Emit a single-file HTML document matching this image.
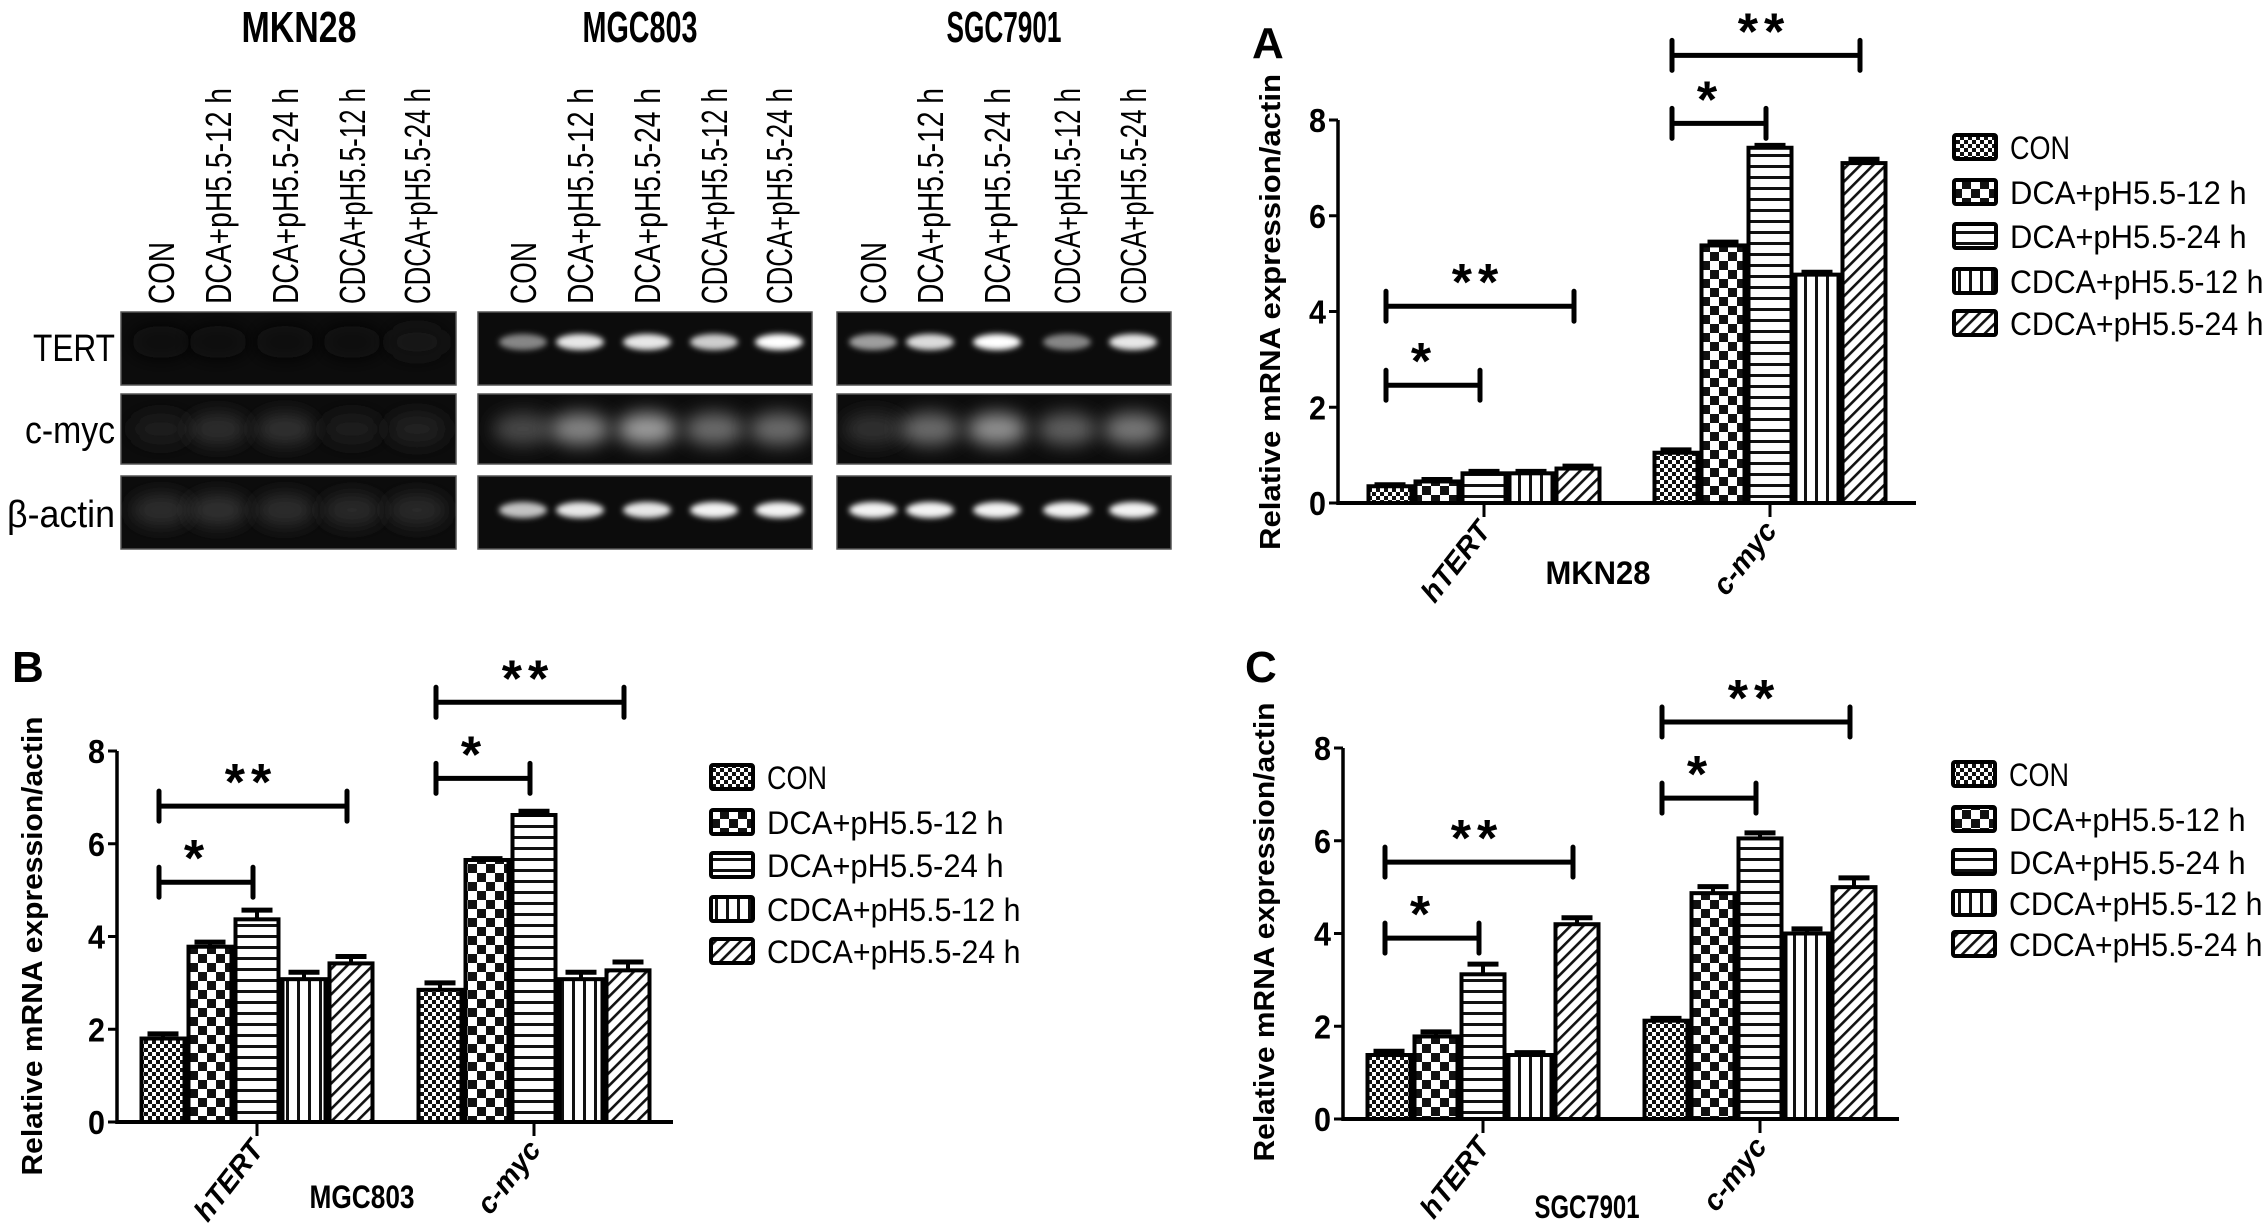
<!DOCTYPE html>
<html><head><meta charset="utf-8"><style>
html,body{margin:0;padding:0;background:#fff;}
svg{display:block;}
text{font-family:"Liberation Sans",sans-serif;}
</style></head><body>
<svg id="fig" width="2268" height="1230" viewBox="0 0 2268 1230" xmlns="http://www.w3.org/2000/svg">
<defs>
<pattern id="pCON" patternUnits="userSpaceOnUse" width="8" height="8"><rect width="8" height="8" fill="#fff"/><rect width="4" height="4" fill="#111"/><rect x="4" y="4" width="4" height="4" fill="#111"/></pattern>
<pattern id="pD12" patternUnits="userSpaceOnUse" width="18" height="18"><rect width="18" height="18" fill="#fff"/><rect width="9" height="9" fill="#111"/><rect x="9" y="9" width="9" height="9" fill="#111"/></pattern>
<pattern id="pD24" patternUnits="userSpaceOnUse" width="11" height="11"><rect width="11" height="11" fill="#fff"/><rect y="0" width="11" height="3" fill="#111"/></pattern>
<pattern id="pC12" patternUnits="userSpaceOnUse" width="11" height="11"><rect width="11" height="11" fill="#fff"/><rect x="0" width="3" height="11" fill="#111"/></pattern>
<pattern id="pC24" patternUnits="userSpaceOnUse" width="9" height="9" patternTransform="rotate(45)"><rect width="9" height="9" fill="#fff"/><rect width="2.6" height="9" fill="#111"/></pattern>
<filter id="blurS" x="-50%" y="-100%" width="200%" height="300%"><feGaussianBlur stdDeviation="3"/></filter>
<filter id="blurL" x="-50%" y="-100%" width="200%" height="300%"><feGaussianBlur stdDeviation="9"/></filter>
</defs>
</svg>
<script>
const NS='http://www.w3.org/2000/svg';
const svg=document.getElementById('fig');

// ---------- data ----------
const seriesNames=['CON','DCA+pH5.5-12 h','DCA+pH5.5-24 h','CDCA+pH5.5-12 h','CDCA+pH5.5-24 h'];
const categories=['hTERT','c-myc'];
const yTickLabels=['0','2','4','6','8'];
const yTickValues=[0,2,4,6,8];
// Panel A (MKN28)
const A_hTERT=[0.35,0.45,0.62,0.62,0.72];
const A_hTERT_err=[0.03,0.04,0.04,0.04,0.05];
const A_cmyc=[1.05,5.38,7.42,4.77,7.1];
const A_cmyc_err=[0.06,0.07,0.05,0.05,0.08];
const A_sig=[2.46,4.11,7.93,9.35];
// Panel B (MGC803)
const B_hTERT=[1.8,3.78,4.37,3.08,3.42];
const B_hTERT_err=[0.1,0.1,0.2,0.15,0.15];
const B_cmyc=[2.85,5.65,6.62,3.08,3.27];
const B_cmyc_err=[0.15,0.03,0.08,0.15,0.18];
const B_sig=[5.17,6.81,7.41,9.05];
// Panel C (SGC7901)
const C_hTERT=[1.38,1.78,3.12,1.38,4.2];
const C_hTERT_err=[0.08,0.1,0.22,0.05,0.14];
const C_cmyc=[2.12,4.87,6.05,4.0,5.0];
const C_cmyc_err=[0.05,0.14,0.12,0.1,0.2];
const C_sig=[3.9,5.54,6.92,8.56];
// Gel band intensities (lanes CON..CDCA24)
const gelCells=['MKN28','MGC803','SGC7901'];
const gelRows=['TERT','c-myc','β-actin'];
const MKN28_bands=[[0.01,0.02,0.02,0.01,0.05],[0.08,0.14,0.16,0.08,0.1],[0.14,0.16,0.14,0.12,0.12]];
const MGC803_bands=[[0.5,0.9,0.9,0.8,1.0],[0.25,0.5,0.6,0.4,0.4],[0.75,0.9,0.9,0.95,0.95]];
const SGC7901_bands=[[0.6,0.85,1.0,0.5,0.9],[0.15,0.4,0.55,0.35,0.45],[0.95,0.95,0.95,0.95,0.95]];

const patterns=['url(#pCON)','url(#pD12)','url(#pD24)','url(#pC12)','url(#pC24)'];

function el(tag,attrs,parent,txt){
  const e=document.createElementNS(NS,tag);
  for(const k in attrs) e.setAttribute(k,attrs[k]);
  if(txt!==undefined) e.textContent=txt;
  (parent||svg).appendChild(e);
  return e;
}

// ---------- gels ----------
const gelGeom=[
  {x0:121,x1:456,lanes:[161,218,285,352,417],tx:299,bands:MKN28_bands},
  {x0:478,x1:812,lanes:[523,580,647,714,779],tx:640,bands:MGC803_bands},
  {x0:837,x1:1171,lanes:[873,930,997,1067,1133],tx:1004,bands:SGC7901_bands}
];
const rowGeom=[{y0:312,y1:385,by:342},{y0:394,y1:464,by:429},{y0:476,y1:549,by:510}];
const defs=svg.querySelector('defs');
gelGeom.forEach((g,gi)=>{
  const grp=el('g',{});
  
  
  const t=el('text',{x:g.tx,y:42,'text-anchor':'middle','font-size':44,'font-weight':'bold',textLength:115,lengthAdjust:'spacingAndGlyphs'},grp,gelCells[gi]);
  
  
  g.lanes.forEach((lx,li)=>{
    const lt=el('text',{x:0,y:0,transform:`translate(${lx+13},304) rotate(-90)`,'font-size':36,textLength:(li===0?62:216),lengthAdjust:'spacingAndGlyphs'},grp,li===0?'CON':seriesNames[li]);
    
    
  });
  rowGeom.forEach((r,ri)=>{
    const cid='clip'+gi+'_'+ri;
    const cp=el('clipPath',{id:cid},defs);
    el('rect',{x:g.x0,y:r.y0,width:g.x1-g.x0,height:r.y1-r.y0},cp);
    const box=el('rect',{x:g.x0,y:r.y0,width:g.x1-g.x0,height:r.y1-r.y0,fill:'#0c0c0c',stroke:'#555','stroke-width':1.5},grp);
    
    
    const bg=el('g',{'clip-path':`url(#${cid})`},grp);
    g.lanes.forEach((lx,li)=>{
      const v=g.bands[ri][li];
      const c=Math.round(12+243*v);
      const diffuse=(ri===1)||gi===0;
      const b=el('ellipse',{cx:lx,cy:r.by,rx:diffuse?30:24,ry:diffuse?16:8,fill:`rgb(${c},${c},${c})`,filter:diffuse?'url(#blurL)':'url(#blurS)'},bg);
      
      
    });
  });
});
[['TERT',361],['c-myc',443],['β-actin',527]].forEach(([s,y])=>{
  const t=el('text',{x:115,y:y,'text-anchor':'end','font-size':38,textLength:s==='TERT'?82:(s==='c-myc'?90:108),lengthAdjust:'spacingAndGlyphs'},svg,s);
  
  
});

// ---------- bar panels ----------
function panel(p){
  const grp=el('g',{});
  
  
  const ys=v=>p.y0-v*(p.y0-p.y8)/8;
  const step=47;
  const xb=(g,i)=>p.ticks[g]-2.5*step+i*step;
  const xc=(g,i)=>xb(g,i)+step/2;
  const L=el('text',{x:p.lx,y:p.ly,'font-size':44,'font-weight':'bold'},grp,p.letter);
  
  
  const yt=el('text',{x:0,y:0,transform:`translate(${p.tcx},${p.tcy}) rotate(-90)`,'text-anchor':'middle','font-size':29,'font-weight':'bold',textLength:p.tlen,lengthAdjust:'spacingAndGlyphs'},grp,'Relative mRNA expression/actin');
  
  
  [p.vals[0],p.vals[1]].forEach((arr,g)=>{
    arr.forEach((v,i)=>{
      const e=p.errs[g][i];
      const x=xb(g,i);
      const eb=el('line',{x1:x+step/2,x2:x+step/2,y1:ys(v),y2:ys(v+e),stroke:'#000','stroke-width':4},grp);
      
      
      const cap=el('line',{x1:x+8,x2:x+step-8,y1:ys(v+e),y2:ys(v+e),stroke:'#000','stroke-width':5},grp);
      
      
      const r=el('rect',{x:x+2,y:ys(v),width:step-4,height:ys(0)-ys(v),fill:patterns[i],stroke:'#000','stroke-width':4},grp);
      
      
    });
  });
  const ya=el('line',{x1:p.ax,x2:p.ax,y1:p.y0+2,y2:ys(8),stroke:'#000','stroke-width':3.5},grp);
  
  
  const xa=el('line',{x1:p.ax,x2:p.xend,y1:p.y0,y2:p.y0,stroke:'#000','stroke-width':4},grp);
  
  
  yTickValues.forEach((v,i)=>{
    const tk=el('line',{x1:p.ax-9,x2:p.ax,y1:ys(v),y2:ys(v),stroke:'#000','stroke-width':3},grp);
    
    
    const tl=el('text',{x:p.ax-12,y:ys(v)+12,'text-anchor':'end','font-size':33,'font-weight':'bold',textLength:17,lengthAdjust:'spacingAndGlyphs'},grp,yTickLabels[i]);
    
    
  });
  categories.forEach((c,g)=>{
    const tk=el('line',{x1:p.ticks[g],x2:p.ticks[g],y1:p.y0,y2:p.y0+14,stroke:'#000','stroke-width':3},grp);
    
    
    const tl=el('text',{x:0,y:0,transform:`translate(${p.ticks[g]+8},${p.y0+28}) rotate(-52)`,'text-anchor':'end','font-size':29,'font-weight':'bold','font-style':'italic'},grp,c);
    
    
  });
  const cl=el('text',{x:p.cx,y:p.cy,'text-anchor':'middle','font-size':32,'font-weight':'bold',textLength:105,lengthAdjust:'spacingAndGlyphs'},grp,p.cell);
  
  
  [[0,2,'*'],[0,4,'**'],[1,2,'*'],[1,4,'**']].forEach(([g,j,s],k)=>{
    const y=ys(p.sig[k]);
    const x1=xc(g,0)-4,x2=xc(g,j)-4;
    const br=el('path',{d:`M${x1},${y-15}V${y+15}M${x1},${y}H${x2}M${x2},${y-15}V${y+15}`,stroke:'#000','stroke-width':5,fill:'none','stroke-linecap':'round'},grp);
    
    
    const st=el('text',{x:(x1+x2)/2-(s==='*'?12:2),y:y-6,'text-anchor':'middle','font-size':52,'font-weight':'bold','letter-spacing':s==='**'?6:0},grp,s);
    
    
  });
  seriesNames.forEach((n,i)=>{
    const yy=p.legY[i];
    const sw=el('rect',{x:p.legX,y:yy-12,width:42,height:24,fill:patterns[i],stroke:'#000','stroke-width':4,rx:2},grp);
    
    
    const attrs={x:p.legX+56,y:yy+12,'font-size':32};
    if(n.length>3){attrs.textLength=n.length*16.9;attrs.lengthAdjust='spacingAndGlyphs';}
    else{attrs.textLength=60;attrs.lengthAdjust='spacingAndGlyphs';}
    const lt=el('text',attrs,grp,n);
    
    
  });
}

panel({letter:'A',lx:1252,ly:58,ax:1338,y0:503,y8:120,xend:1916,ticks:[1484,1770],
  vals:[A_hTERT,A_cmyc],errs:[A_hTERT_err,A_cmyc_err],sig:A_sig,
  tcx:1280,tcy:312,tlen:476,cell:'MKN28',cx:1598,cy:584,
  legX:1954,legY:[147,192,236,281,323]});
panel({letter:'B',lx:12,ly:682,ax:117,y0:1122,y8:751,xend:673,ticks:[257,534],
  vals:[B_hTERT,B_cmyc],errs:[B_hTERT_err,B_cmyc_err],sig:B_sig,
  tcx:42,tcy:946,tlen:459,cell:'MGC803',cx:362,cy:1208,
  legX:711,legY:[777,822,865,909,951]});
panel({letter:'C',lx:1245,ly:682,ax:1343,y0:1119,y8:748,xend:1899,ticks:[1483,1760],
  vals:[C_hTERT,C_cmyc],errs:[C_hTERT_err,C_cmyc_err],sig:C_sig,
  tcx:1274,tcy:932,tlen:459,cell:'SGC7901',cx:1587,cy:1218,
  legX:1953,legY:[774,819,862,903,944]});
</script>
</body></html>
